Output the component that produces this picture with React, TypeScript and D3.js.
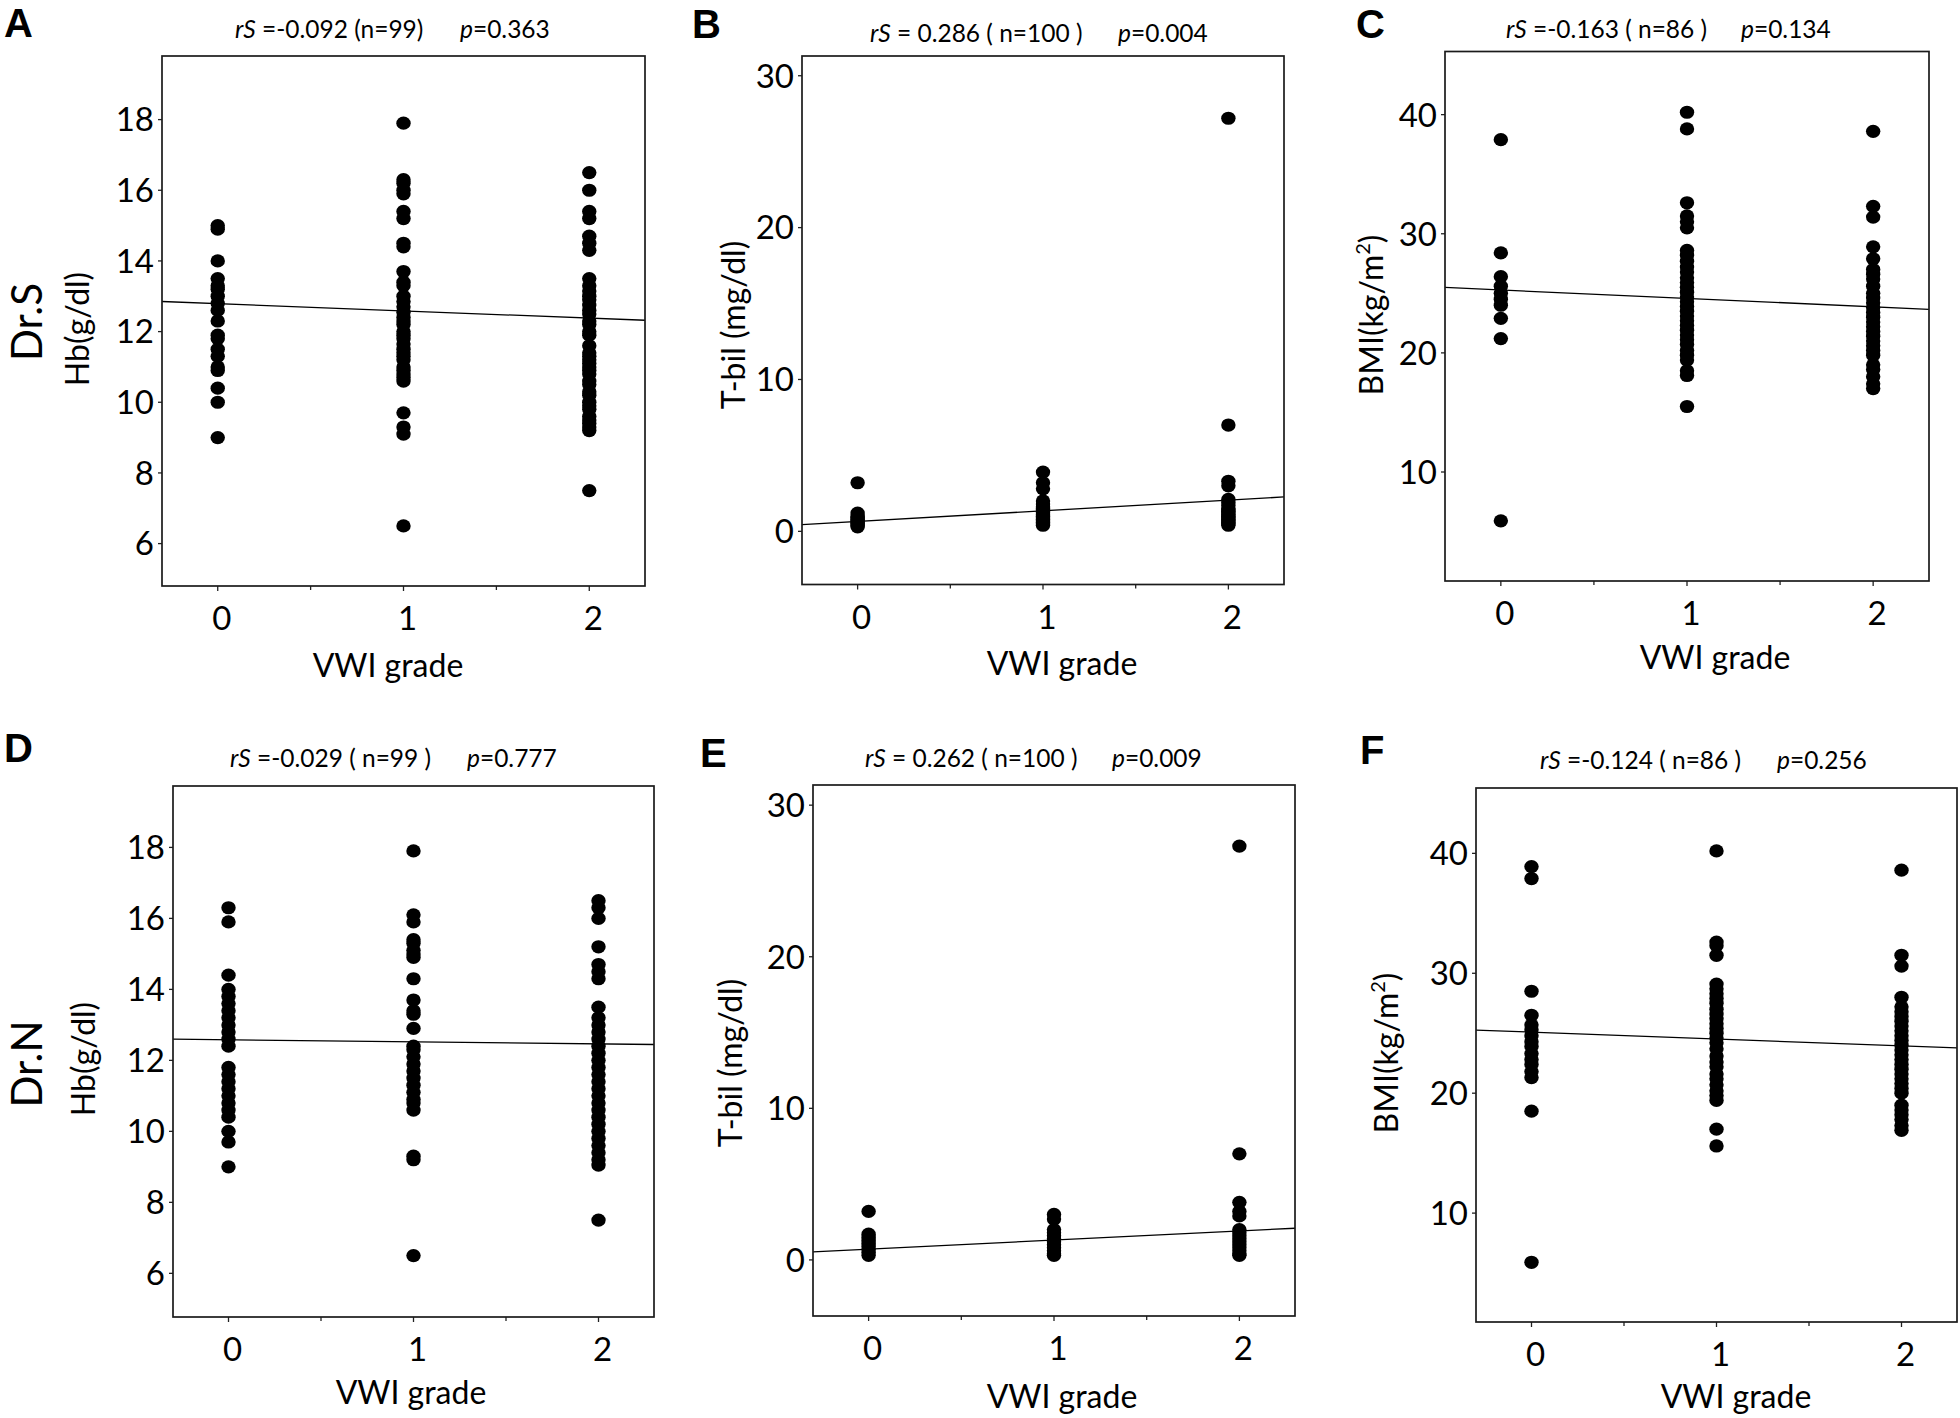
import React from 'react';
import * as d3 from 'd3';

// ---------- data ----------
const grades = [0, 1, 2];
const minorTicks = [0.5, 1.5];
const hbTicks = [6, 8, 10, 12, 14, 16, 18];
const tbilTicks = [0, 10, 20, 30];
const bmiTicks = [10, 20, 30, 40];

// Panel A – Dr.S, Hb
const hbS0 = [15.0, 14.9, 14.0, 13.5, 13.3, 13.2, 13.0, 12.8, 12.6, 12.3, 11.9, 11.8, 11.5, 11.3, 11.0, 10.9, 10.4, 10.0, 9.0];
const hbS1 = [17.9, 16.3, 16.2, 16.0, 15.9, 15.4, 15.2, 14.5, 14.4, 13.7, 13.4, 13.3, 13.0, 12.85, 12.7, 12.55, 12.4, 12.3, 12.2, 12.0, 11.9, 11.8, 11.65, 11.5, 11.4, 11.3, 11.2, 11.0, 10.9, 10.8, 10.7, 10.6, 9.7, 9.3, 9.1, 6.5];
const hbS2 = [16.5, 16.0, 15.4, 15.2, 14.7, 14.5, 14.3, 13.5, 13.3, 13.15, 13.0, 12.9, 12.75, 12.6, 12.5, 12.3, 12.2, 12.0, 11.9, 11.6, 11.4, 11.3, 11.2, 11.1, 11.0, 10.9, 10.8, 10.6, 10.5, 10.3, 10.2, 10.0, 9.9, 9.8, 9.6, 9.5, 9.4, 9.3, 9.2, 7.5];

// Panel B – Dr.S, T-bil
const tbS0 = [3.2, 1.2, 1.0, 0.9, 0.8, 0.7, 0.6, 0.5, 0.4, 0.3];
const tbS1 = [3.9, 3.2, 2.8, 2.0, 1.8, 1.6, 1.5, 1.4, 1.3, 1.2, 1.1, 1.0, 0.9, 0.8, 0.7, 0.6, 0.5, 0.4];
const tbS2 = [27.2, 7.0, 3.3, 3.0, 2.1, 1.9, 1.7, 1.5, 1.4, 1.3, 1.2, 1.1, 1.0, 0.9, 0.8, 0.7, 0.6, 0.5, 0.4];

// Panel C – Dr.S, BMI
const bmiS0 = [37.9, 28.4, 26.4, 25.6, 25.0, 24.5, 24.0, 22.9, 21.2, 5.9];
const bmiS1 = [40.2, 38.8, 32.6, 31.5, 31.0, 30.5, 28.6, 28.2, 27.7, 27.2, 26.8, 26.3, 25.9, 25.5, 25.1, 24.7, 24.3, 23.9, 23.5, 23.1, 22.7, 22.3, 21.9, 21.5, 21.1, 20.7, 20.2, 19.8, 19.4, 18.5, 18.1, 15.5];
const bmiS2 = [38.6, 32.3, 31.4, 28.9, 27.9, 27.0, 26.6, 26.2, 25.6, 25.0, 24.6, 24.2, 23.8, 23.4, 23.0, 22.6, 22.2, 21.8, 21.4, 21.0, 20.6, 20.2, 19.8, 19.0, 18.6, 18.0, 17.4, 17.0];

// Panel D – Dr.N, Hb
const hbN0 = [16.3, 15.9, 14.4, 14.0, 13.8, 13.6, 13.4, 13.2, 13.0, 12.8, 12.6, 12.4, 11.8, 11.6, 11.4, 11.2, 11.0, 10.8, 10.6, 10.4, 10.0, 9.7, 9.0];
const hbN1 = [17.9, 16.1, 15.9, 15.4, 15.3, 15.1, 15.0, 14.9, 14.3, 13.7, 13.4, 13.3, 12.9, 12.4, 12.3, 12.1, 11.9, 11.7, 11.5, 11.3, 11.1, 10.9, 10.8, 10.6, 9.3, 9.2, 6.5];
const hbN2 = [16.5, 16.3, 16.0, 15.2, 14.7, 14.5, 14.3, 13.5, 13.2, 13.0, 12.8, 12.6, 12.4, 12.2, 12.0, 11.8, 11.6, 11.4, 11.2, 11.0, 10.8, 10.6, 10.4, 10.2, 10.0, 9.8, 9.6, 9.4, 9.2, 9.05, 7.5];

// Panel E – Dr.N, T-bil
const tbN0 = [3.2, 1.7, 1.5, 1.3, 1.1, 0.9, 0.7, 0.5, 0.3];
const tbN1 = [3.0, 2.7, 2.0, 1.8, 1.6, 1.4, 1.2, 1.0, 0.8, 0.6, 0.4, 0.3];
const tbN2 = [27.3, 7.0, 3.8, 3.2, 2.9, 2.0, 1.8, 1.6, 1.4, 1.2, 1.0, 0.8, 0.6, 0.4, 0.3];

// Panel F – Dr.N, BMI
const bmiN0 = [38.9, 37.9, 28.5, 26.5, 25.7, 25.3, 24.8, 24.3, 23.9, 23.3, 22.8, 22.4, 21.8, 21.3, 18.5, 5.9];
const bmiN1 = [40.2, 32.6, 32.3, 31.5, 29.1, 28.7, 28.3, 27.9, 27.5, 27.0, 26.6, 26.2, 25.8, 25.4, 25.0, 24.6, 24.2, 23.7, 23.1, 22.6, 22.2, 21.6, 21.2, 20.7, 20.2, 19.8, 19.4, 17.0, 15.6];
const bmiN2 = [38.6, 31.5, 30.6, 28.0, 27.2, 26.8, 26.4, 26.0, 25.6, 25.2, 24.8, 24.4, 24.0, 23.6, 23.2, 22.8, 22.4, 22.0, 21.6, 21.2, 20.8, 20.4, 20.0, 19.0, 18.6, 18.2, 17.8, 17.3, 16.9];

// regression lines (value at grade 0, slope per grade)
const fitIntercepts = [12.79, 0.65, 25.28, 12.58, 0.71, 25.09];
const fitSlopes = [-0.204, 0.703, -0.707, -0.058, 0.6, -0.573];

// statistics in headers
const rsTexts = [' =-0.092 (n=99)', ' = 0.286 ( n=100 )', ' =-0.163 ( n=86 )', ' =-0.029 ( n=99 )', ' = 0.262 ( n=100 )', ' =-0.124 ( n=86 )'];
const pTexts = ['=0.363', '=0.004', '=0.134', '=0.777', '=0.009', '=0.256'];
const letters = ['A', 'B', 'C', 'D', 'E', 'F'];
const xLabel = 'VWI grade';

// ---------- layout ----------
const FONT = "Lato, 'Open Sans', sans-serif";
const BOLD = "'Liberation Sans', Arial, sans-serif";
const TICK_FS = 33;

type Layout = {
  box: [number, number, number, number]; // x0, x1, y0, y1
  yDomain: [number, number];
  letter: [number, number];
  rs: [number, number];
  pX: number;
  yTitle: [number, number];
  xTitle: [number, number];
  row: string;
  rowPos?: [number, number];
  kind: 'hb' | 'tb' | 'bmi';
};

const layouts: Layout[] = [
  { box: [162, 645, 56, 586], yDomain: [4.8, 19.8], letter: [4, 37], rs: [235, 38], pX: 460, yTitle: [89, 329], xTitle: [388, 677], row: 'Dr.S', rowPos: [42, 322], kind: 'hb' },
  { box: [802, 1284, 56, 584.5], yDomain: [-3.5, 31.3], letter: [692, 37.5], rs: [870, 42], pX: 1118, yTitle: [745, 325], xTitle: [1062, 675], row: '', kind: 'tb' },
  { box: [1445, 1929, 51.5, 581], yDomain: [0.85, 45.3], letter: [1356, 37.5], rs: [1506, 38], pX: 1741, yTitle: [1383, 315], xTitle: [1715, 669], row: '', kind: 'bmi' },
  { box: [173, 654, 786, 1317], yDomain: [4.77, 19.73], letter: [4, 762], rs: [230, 767], pX: 467, yTitle: [95, 1059], xTitle: [411, 1404], row: 'Dr.N', rowPos: [42, 1064], kind: 'hb' },
  { box: [813, 1295, 785, 1316], yDomain: [-3.7, 31.33], letter: [700, 767], rs: [865, 767], pX: 1112, yTitle: [742, 1063], xTitle: [1062, 1408], row: '', kind: 'tb' },
  { box: [1476, 1957, 788, 1322], yDomain: [0.92, 45.45], letter: [1360, 764], rs: [1540, 769], pX: 1777, yTitle: [1398, 1053], xTitle: [1736, 1408], row: '', kind: 'bmi' },
];

const panelValues = [
  [hbS0, hbS1, hbS2],
  [tbS0, tbS1, tbS2],
  [bmiS0, bmiS1, bmiS2],
  [hbN0, hbN1, hbN2],
  [tbN0, tbN1, tbN2],
  [bmiN0, bmiN1, bmiN2],
];

const ticksFor = { hb: hbTicks, tb: tbilTicks, bmi: bmiTicks };

function YTitle({ kind, x, y }: { kind: string; x: number; y: number }) {
  const common = { fontFamily: FONT, fontSize: 32, textAnchor: 'middle' as const, fill: '#000' };
  if (kind === 'hb') return <text {...common} transform={`translate(${x},${y}) rotate(-90)`}>Hb(g/dl)</text>;
  if (kind === 'tb') return <text {...common} transform={`translate(${x},${y}) rotate(-90)`}>T-bil (mg/dl)</text>;
  return (
    <text {...common} transform={`translate(${x},${y}) rotate(-90)`}>
      BMI(kg/m<tspan dy={-13} fontSize={20}>2</tspan><tspan dy={13}>)</tspan>
    </text>
  );
}

function Panel({ i }: { i: number }) {
  const L = layouts[i];
  const [x0, x1, y0, y1] = L.box;
  const x = d3.scaleLinear().domain([-0.3, 2.3]).range([x0, x1]);
  const y = d3.scaleLinear().domain(L.yDomain).range([y1, y0]);
  const ticks = ticksFor[L.kind];
  const vals = panelValues[i];
  const fitLine = d3.line<number>().x((g) => x(g)).y((g) => y(fitIntercepts[i] + fitSlopes[i] * g));
  const clipId = `clip${i}`;
  return (
    <g>
      <defs>
        <clipPath id={clipId}>
          <rect x={x0} y={y0} width={x1 - x0} height={y1 - y0} />
        </clipPath>
      </defs>
      {/* letter */}
      <text x={L.letter[0]} y={L.letter[1]} fontFamily={BOLD} fontWeight="bold" fontSize={40} fill="#000">
        {letters[i]}
      </text>
      {/* header stats */}
      <text x={L.rs[0]} y={L.rs[1]} fontFamily={FONT} fontSize={24.5} fill="#000">
        <tspan fontStyle="italic">rS</tspan>
        <tspan>{rsTexts[i]}</tspan>
      </text>
      <text x={L.pX} y={L.rs[1]} fontFamily={FONT} fontSize={24.5} fill="#000">
        <tspan fontStyle="italic">p</tspan>
        <tspan>{pTexts[i]}</tspan>
      </text>
      {/* row label */}
      {L.row && L.rowPos && (
        <text transform={`translate(${L.rowPos[0]},${L.rowPos[1]}) rotate(-90)`} textAnchor="middle" fontFamily={FONT} fontSize={42} fill="#000">
          {L.row}
        </text>
      )}
      <YTitle kind={L.kind} x={L.yTitle[0]} y={L.yTitle[1]} />
      <text x={L.xTitle[0]} y={L.xTitle[1]} textAnchor="middle" fontFamily={FONT} fontSize={32} fill="#000">
        {xLabel}
      </text>
      {/* y ticks */}
      {ticks.map((t) => (
        <g key={`y${t}`}>
          <line x1={x0 - 4} x2={x0} y1={y(t)} y2={y(t)} stroke="#222" strokeWidth={1.3} />
          <text x={x0 - 8} y={y(t)} dy="0.36em" textAnchor="end" fontFamily={FONT} fontSize={TICK_FS} fill="#000">
            {t}
          </text>
        </g>
      ))}
      {/* x ticks */}
      {grades.map((g) => (
        <g key={`x${g}`}>
          <line x1={x(g)} x2={x(g)} y1={y1} y2={y1 + 5} stroke="#222" strokeWidth={1.3} />
          <text x={x(g) + 4} y={y1 + 44} textAnchor="middle" fontFamily={FONT} fontSize={TICK_FS} fill="#000">
            {g}
          </text>
        </g>
      ))}
      {minorTicks.map((g) => (
        <line key={`m${g}`} x1={x(g)} x2={x(g)} y1={y1} y2={y1 + 4} stroke="#222" strokeWidth={1.3} />
      ))}
      {/* dots */}
      <g clipPath={`url(#${clipId})`}>
        {vals.map((arr, g) =>
          arr.map((v, k) => <ellipse key={`${g}-${k}`} cx={x(grades[g])} cy={y(v)} rx={7.2} ry={6.6} fill="#000" />)
        )}
        <path d={fitLine([-0.3, 2.3]) || ''} stroke="#000" strokeWidth={1.3} fill="none" />
      </g>
      {/* frame */}
      <rect x={x0} y={y0} width={x1 - x0} height={y1 - y0} fill="none" stroke="#1a1a1a" strokeWidth={1.7} />
    </g>
  );
}

export default function App() {
  return (
    <svg width={1960} height={1418} viewBox="0 0 1960 1418" style={{ position: 'absolute', left: 0, top: 0, background: '#fff' }}>
      <rect x={0} y={0} width={1960} height={1418} fill="#fff" />
      {layouts.map((_, i) => (
        <Panel key={i} i={i} />
      ))}
    </svg>
  );
}
